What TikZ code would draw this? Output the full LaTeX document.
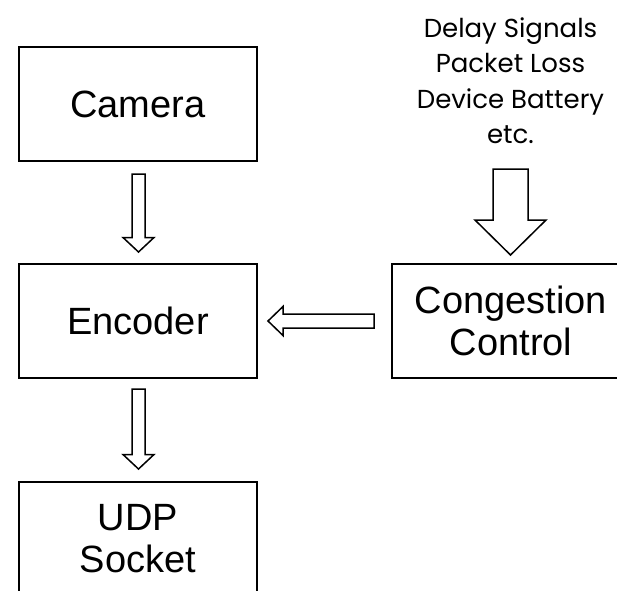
\documentclass[tikz,border=0pt]{standalone}
\usepackage{fontspec}
\setmainfont{Liberation Sans}
\newfontfamily\notefont{Poppins}
\usetikzlibrary{calc}

% block (hollow) arrow from #1 to #2: shaft half-width #3, head half-width #4, head length #5
\newcommand{\blockarrow}[5]{%
  \coordinate (ba-h) at ($(#2)!#5!(#1)$);
  \draw[blockline]
    ($(#1)!#3!90:(#2)$) -- ($(ba-h)!#3!-90:(#1)$) -- ($(ba-h)!#4!-90:(#1)$)
    -- (#2) -- ($(ba-h)!#4!90:(#1)$) -- ($(ba-h)!#3!90:(#1)$)
    -- ($(#1)!#3!-90:(#2)$) -- cycle;
}

\tikzset{
  stagebox/.style={draw=black, fill=white, line width=2pt, minimum width=238pt,
    minimum height=114pt, inner sep=0pt, align=center,
    font=\fontsize{38}{42}\selectfont},
  blockline/.style={draw=black, fill=white, line width=1.5pt, line join=miter},
  notetext/.style={inner sep=0pt, align=center,
    font=\notefont\fontsize{26}{35.5}\selectfont}
}

\begin{document}
\begin{tikzpicture}[x=1pt,y=-1pt]
  \useasboundingbox[fill=white] (0,0) rectangle (617,590);

  % processing stages
  \node[stagebox] (camera)  at (138,104) {Camera};
  \node[stagebox] (encoder) at (138,321) {Encoder};
  \node[stagebox] (udp)     at (138,539) {UDP\\Socket};
  \node[stagebox] (cc)      at (511,321) {Congestion\\Control};

  % inputs to congestion control
  \node[notetext, anchor=north] (signals) at (510.5,17.5)
    {Delay Signals\\Packet Loss\\Device Battery\\etc.};

  % arrow end points
  \coordinate (a1s) at ($(camera.south)+(0.5,12)$);
  \coordinate (a1e) at ($(encoder.north)+(0.5,-11)$);
  \coordinate (a2s) at ($(encoder.south)+(0.5,10)$);
  \coordinate (a2e) at ($(udp.north)+(0.5,-12)$);
  \coordinate (a3s) at ($(cc.west)+(-17,0)$);
  \coordinate (a3e) at ($(encoder.east)+(10,0)$);
  \coordinate (a4s) at ($(cc.north)+(-0.5,-94)$);
  \coordinate (a4e) at ($(cc.north)+(-0.5,-8)$);

  \blockarrow{a1s}{a1e}{6.5pt}{15.5pt}{14.5pt}
  \blockarrow{a2s}{a2e}{6.5pt}{15.5pt}{14.5pt}
  \blockarrow{a3s}{a3e}{7pt}{14.5pt}{15pt}
  \blockarrow{a4s}{a4e}{17.5pt}{35.5pt}{35pt}
\end{tikzpicture}
\end{document}
